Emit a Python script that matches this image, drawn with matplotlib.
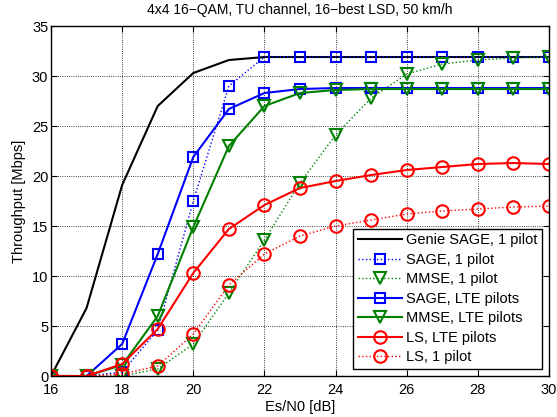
import matplotlib
matplotlib.use("Agg")
import matplotlib.pyplot as plt

plt.rcParams['font.family'] = ['Liberation Sans', 'DejaVu Sans']
plt.rcParams['font.size'] = 10.5

# x axis: Es/N0 in dB
snr = [16, 17, 18, 19, 20, 21, 22, 23, 24, 25, 26, 27, 28, 29, 30]

# throughput values [Mbps]
genie_sage_1 = [0, 6.8, 19.1, 27.0, 30.3, 31.6, 31.9, 31.9, 31.9, 31.9, 31.9, 31.9, 31.9, 31.9, 31.9]
sage_1 = [0, 0, 0.4, 4.6, 17.5, 29.0, 31.9, 31.9, 31.9, 31.9, 31.9, 31.9, 31.9, 31.9, 31.9]
mmse_1 = [0, 0, 0, 0.7, 3.2, 8.3, 13.6, 19.3, 24.1, 27.8, 30.2, 31.2, 31.6, 31.8, 31.9]
sage_lte = [0, 0, 3.2, 12.2, 21.9, 26.7, 28.3, 28.7, 28.8, 28.8, 28.8, 28.8, 28.8, 28.8, 28.8]
mmse_lte = [0, 0, 1.1, 6.0, 14.9, 23.0, 27.0, 28.3, 28.6, 28.7, 28.7, 28.7, 28.7, 28.7, 28.7]
ls_lte = [0, 0, 1.2, 4.7, 10.3, 14.7, 17.1, 18.8, 19.5, 20.1, 20.6, 20.9, 21.2, 21.3, 21.2]
ls_1 = [0, 0, 0.2, 1.0, 4.2, 9.1, 12.2, 14.0, 15.0, 15.6, 16.2, 16.5, 16.7, 16.9, 17.0]

fig = plt.figure(figsize=(5.57, 4.17), dpi=100)
ax = fig.add_axes([0.0916, 0.0983, 0.894, 0.8393])

LW = 1.5
MEW = 1.5
ax.plot(snr, genie_sage_1, '-', color='black', lw=LW, label='Genie SAGE, 1 pilot')
ax.plot(snr, sage_1, ':', color='blue', lw=1.0, marker='s', ms=7, mfc='none',
        mec='blue', mew=MEW, label='SAGE, 1 pilot')
ax.plot(snr, mmse_1, ':', color='green', lw=1.0, marker='v', ms=9, mfc='none',
        mec='green', mew=MEW, label='MMSE, 1 pilot')
ax.plot(snr, sage_lte, '-', color='blue', lw=LW, marker='s', ms=7, mfc='none',
        mec='blue', mew=MEW, label='SAGE, LTE pilots')
ax.plot(snr, mmse_lte, '-', color='green', lw=LW, marker='v', ms=9, mfc='none',
        mec='green', mew=MEW, label='MMSE, LTE pilots')
ax.plot(snr, ls_lte, '-', color='red', lw=LW, marker='o', ms=9, mfc='none',
        mec='red', mew=MEW, label='LS, LTE pilots')
ax.plot(snr, ls_1, ':', color='red', lw=1.0, marker='o', ms=9, mfc='none',
        mec='red', mew=MEW, label='LS, 1 pilot')

ax.set_xlim(16, 30)
ax.set_ylim(0, 35)
ax.set_xticks(range(16, 31, 2))
ax.set_yticks(range(0, 36, 5))
ax.tick_params(axis='x', direction='in', top=True, length=4, pad=5)
ax.tick_params(axis='y', direction='in', right=True, length=4, pad=2)
ax.grid(True, linestyle=':', color='black', lw=0.6)
for s in ax.spines.values():
    s.set_linewidth(1.0)

ax.set_xlabel('Es/N0 [dB]', labelpad=2)
ax.set_ylabel('Throughput [Mbps]', labelpad=4)
ax.set_title('4x4 16\u2212QAM, TU channel, 16\u2212best LSD, 50 km/h', fontsize=10, pad=9)

leg = ax.legend(loc='lower right', fancybox=False, framealpha=1, edgecolor='black',
                borderpad=0.3, labelspacing=0.38, handlelength=3.0, handletextpad=0.3,
                borderaxespad=0.5)
leg.get_frame().set_linewidth(1.0)

fig.savefig('out.png', dpi=100)
